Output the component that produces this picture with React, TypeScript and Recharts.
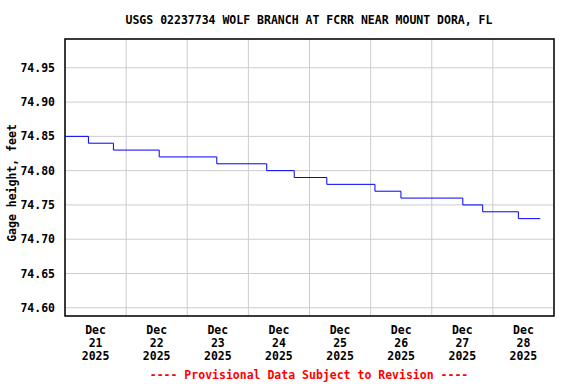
import { LineChart, Line, XAxis, YAxis, CartesianGrid, ReferenceArea } from 'recharts'

// hours since Dec 21 2025 00:00 and gage height (ft)
const HOURS = [0, 9.2, 19.0, 37.0, 59.6, 79.2, 90.0, 102.8, 121.7, 131.9, 156.2, 164.0, 178.0, 186.6]
const GAGE = [74.85, 74.84, 74.83, 74.82, 74.81, 74.80, 74.79, 74.78, 74.77, 74.76, 74.75, 74.74, 74.73, 74.73]
const DAYS = ['21', '22', '23', '24', '25', '26', '27', '28']
const Y_TICKS = [74.6, 74.65, 74.7, 74.75, 74.8, 74.85, 74.9, 74.95]
const Y_MIN = 74.588
const Y_MAX = 74.992

const data = HOURS.map((h, i) => ({ h, v: GAGE[i] }))
const labelTicks = DAYS.map((_, i) => i * 24 + 12)
const gridTicks = DAYS.slice(1).map((_, i) => (i + 1) * 24)

const FONT = '"DejaVu Sans Mono", monospace'

// eslint-disable-next-line @typescript-eslint/no-explicit-any
function DayTick({ x, y, index }: any) {
  return (
    <text x={x} y={y} textAnchor="middle" fontFamily={FONT} fontSize={11.5} fontWeight="bold" fill="#000">
      <tspan x={x} dy={10}>Dec</tspan>
      <tspan x={x} dy={13}>{DAYS[index]}</tspan>
      <tspan x={x} dy={13}>2025</tspan>
    </text>
  )
}

export default function App() {
  return (
    <div style={{ position: 'absolute', left: 0, top: 0, width: 576, height: 384, background: '#fff' }}>
      <LineChart width={576} height={384} data={data} margin={{ top: 39, right: 22, bottom: 18, left: 0 }}>
        <text x={309} y={24} textAnchor="middle" fontFamily={FONT} fontSize={11.5} fontWeight="bold" fill="#000">
          USGS 02237734 WOLF BRANCH AT FCRR NEAR MOUNT DORA, FL
        </text>
        <text x={309} y={379} textAnchor="middle" fontFamily={FONT} fontSize={11.5} fontWeight="bold" fill="#ff0000">
          ---- Provisional Data Subject to Revision ----
        </text>
        <text x={16} y={183} textAnchor="middle" fontFamily={FONT} fontSize={11.5} fontWeight="bold" fill="#000" transform="rotate(-90 16 183)">
          Gage height, feet
        </text>
        <CartesianGrid xAxisId="grid" stroke="#cccccc" strokeWidth={1} />
        <XAxis xAxisId="grid" dataKey="h" type="number" domain={[0, 192]} ticks={gridTicks} hide height={0} />
        <XAxis dataKey="h" type="number" domain={[0, 192]} ticks={labelTicks} tick={<DayTick />} tickLine={false} axisLine={false} height={50} interval={0} />
        <YAxis type="number" domain={[Y_MIN, Y_MAX]} ticks={Y_TICKS} width={65} tickLine={false} axisLine={false}
          tickFormatter={(v: number) => v.toFixed(2)}
          tick={{ fontFamily: FONT, fontSize: 11.5, fontWeight: 'bold', fill: '#000' }} tickMargin={4} />
        <Line type="stepAfter" dataKey="v" stroke="#0000ff" strokeWidth={1} dot={false} isAnimationActive={false} />
        <ReferenceArea x1={0} x2={192} y1={Y_MIN} y2={Y_MAX} fill="none" fillOpacity={0} stroke="#000" strokeWidth={1.5} ifOverflow="visible" />
      </LineChart>
    </div>
  )
}
